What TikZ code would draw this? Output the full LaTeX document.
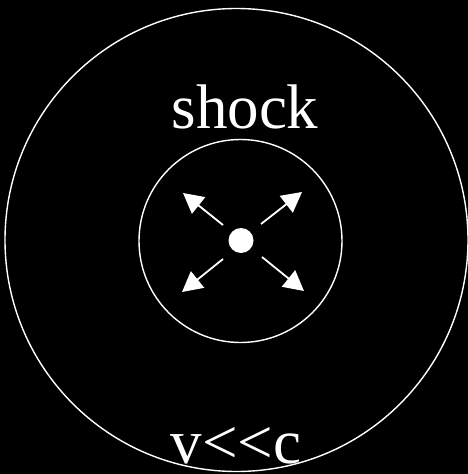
\documentclass[tikz,border=0pt]{standalone}
\usepackage{fontspec}
\setmainfont{Liberation Serif}
\usetikzlibrary{arrows.meta}
\begin{document}
\begin{tikzpicture}[x=1pt,y=-1pt,
  ring/.style={draw=white,line width=1.4pt,circle,inner sep=0pt},
  flow/.style={draw=white,line width=1.8pt,-{Triangle[length=20pt,width=21pt]}},
  label/.style={text=white,font=\fontsize{63}{70}\selectfont,inner sep=0pt,anchor=base}]
\fill[black] (0,0) rectangle (468,474);
\useasboundingbox (0,0) rectangle (468,474);
\node[ring,minimum size=463pt] (outer) at (236.5,240) {};
\node[ring,minimum size=203pt] (inner) at (240.5,241) {};
\node[circle,fill=white,inner sep=0pt,minimum size=25pt] (dot) at (241,240.5) {};
\coordinate (nw0) at (223,225); \coordinate (nw1) at (183,193);
\coordinate (ne0) at (261,224); \coordinate (ne1) at (302,192);
\coordinate (sw0) at (223,259); \coordinate (sw1) at (182,292);
\coordinate (se0) at (262,257); \coordinate (se1) at (304,291);
\draw[flow] (nw0) -- (nw1);
\draw[flow] (ne0) -- (ne1);
\draw[flow] (sw0) -- (sw1);
\draw[flow] (se0) -- (se1);
\node[label] (shock) at (245,128) {shock};
\node[label] (vc) at (236,463) {v<\kern0pt<\kern0pt c};
\end{tikzpicture}
\end{document}
